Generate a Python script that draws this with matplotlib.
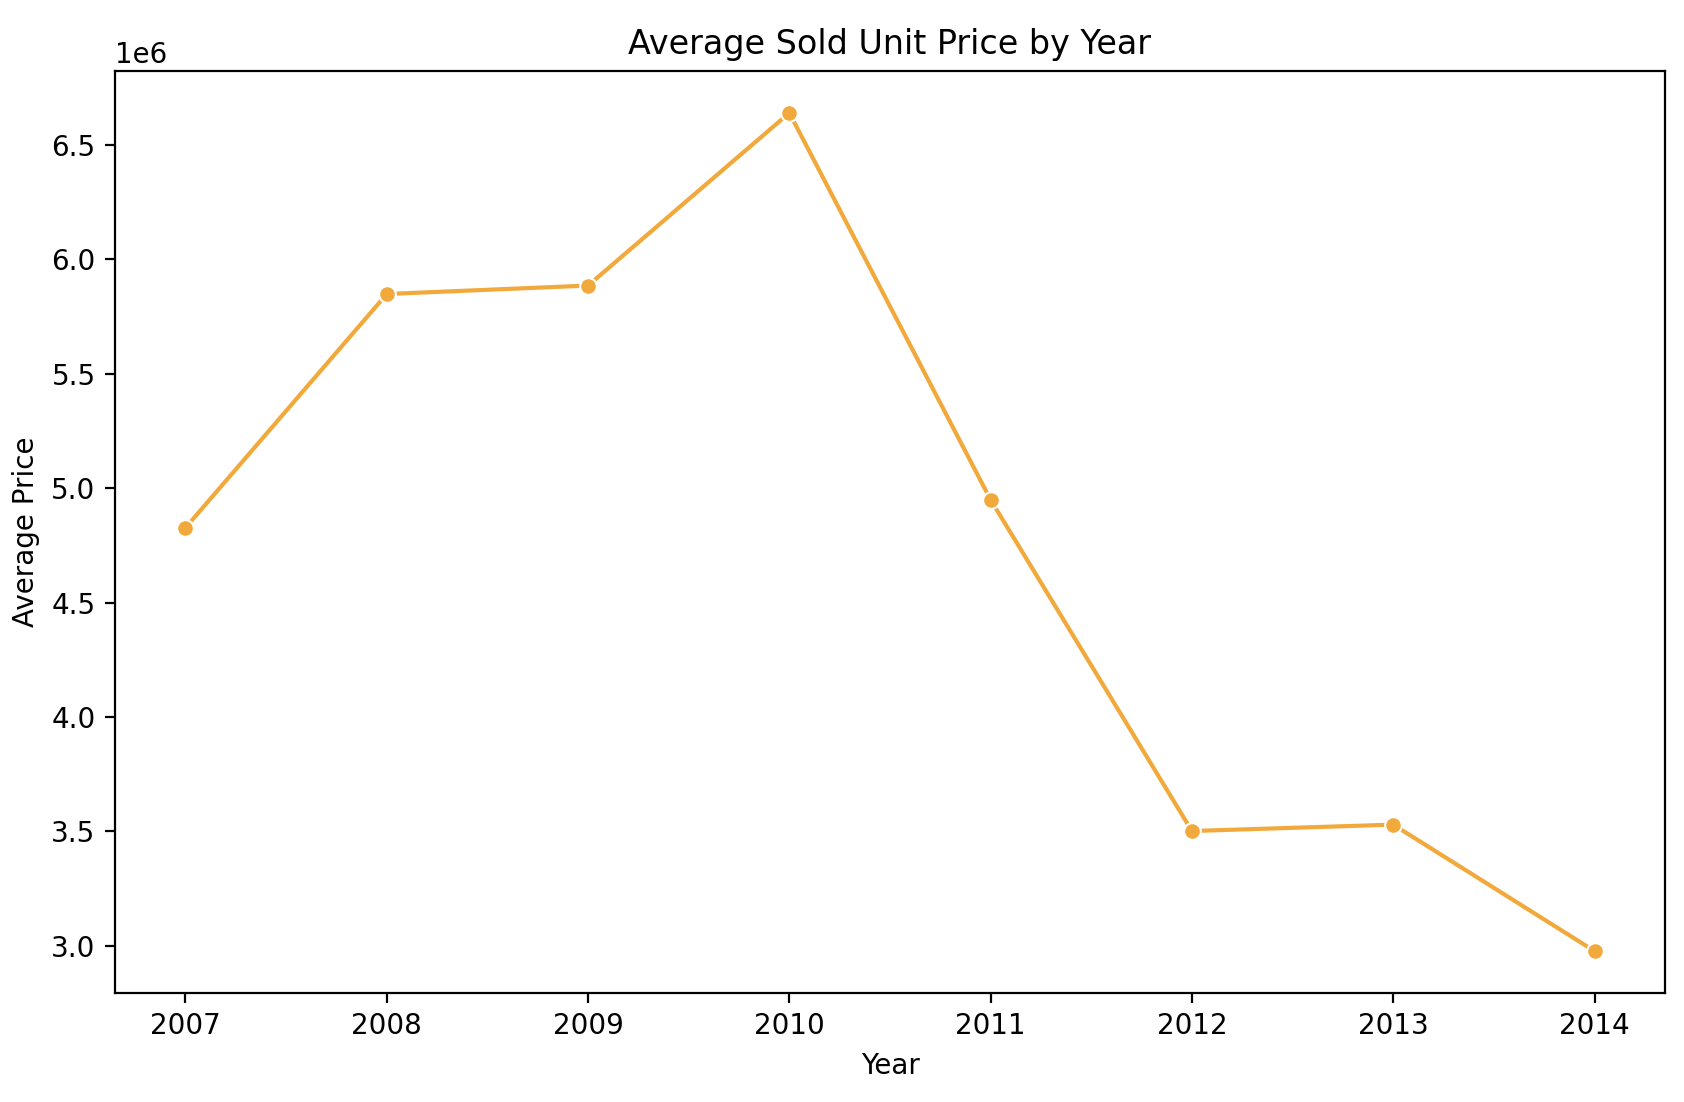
import matplotlib.pyplot as plt
import seaborn as sns

years = [2007, 2008, 2009, 2010, 2011, 2012, 2013, 2014]
avg_price = [4.827e6, 5.849e6, 5.886e6, 6.641e6, 4.949e6, 3.501e6, 3.529e6, 2.976e6]

dpi = 200
fig, ax = plt.subplots(figsize=(1684 / dpi, 1102 / dpi), dpi=dpi)
fig.subplots_adjust(left=0.0683, right=0.9887, top=0.9356, bottom=0.0989)

sns.lineplot(x=years, y=avg_price, marker='o', color='#f2a93b', ax=ax)

ax.set_xticks(years)
ax.set_title('Average Sold Unit Price by Year')
ax.set_xlabel('Year')
ax.set_ylabel('Average Price')

plt.savefig('out.png', dpi=dpi)
plt.close()
